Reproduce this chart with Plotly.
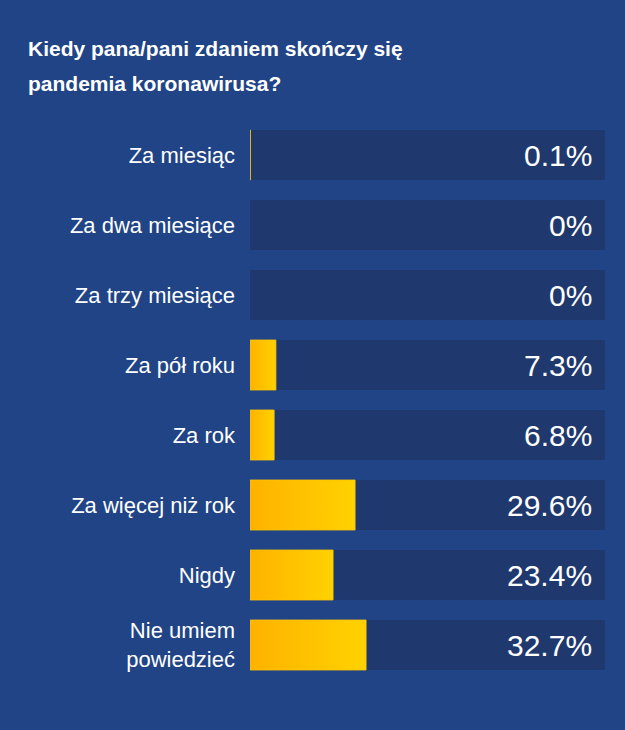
import plotly.graph_objects as go

categories = ["Za miesiąc", "Za dwa miesiące", "Za trzy miesiące", "Za pół roku",
              "Za rok", "Za więcej niż rok", "Nigdy", "Nie umiem<br>powiedzieć"]
values = [0.1, 0, 0, 7.3, 6.8, 29.6, 23.4, 32.7]
value_labels = ["0.1%", "0%", "0%", "7.3%", "6.8%", "29.6%", "23.4%", "32.7%"]
title_lines = ["Kiedy pana/pani zdaniem skończy się", "pandemia koronawirusa?"]

BG = "rgb(32,68,134)"
TRACK = "rgb(31,57,110)"
BAR_W = 50 / 70
FONT = "Liberation Sans, Arial, sans-serif"

idx = list(range(len(categories)))
fig = go.Figure()

# background tracks (100%)
fig.add_trace(go.Bar(x=[100] * len(idx), y=idx, orientation="h", width=BAR_W,
                     marker=dict(color=TRACK, line=dict(width=0)),
                     hoverinfo="skip", showlegend=False))

# gradient value bars
for i, v in zip(idx, values):
    if v <= 0:
        continue
    y0, y1 = i - BAR_W / 2, i + BAR_W / 2
    fig.add_trace(go.Scatter(
        x=[0, v, v, 0, 0], y=[y0, y0, y1, y1, y0], mode="lines",
        fill="toself",
        fillgradient=dict(type="horizontal",
                          colorscale=[[0, "#ffb200"], [1, "#ffd200"]]),
        line=dict(width=0.8, color="#ffc400"),
        hoverinfo="skip", showlegend=False))

annotations = []
for i, t in zip(idx, value_labels):
    annotations.append(dict(x=100, y=i, xref="x", yref="y", text=t,
                            xanchor="right", yanchor="middle", xshift=-11,
                            showarrow=False,
                            font=dict(family=FONT, size=30, color="white")))
for k, line in enumerate(title_lines):
    annotations.append(dict(x=26, y=730 - 48 - 35 * k, xref="paper", yref="paper",
                            text="<b>" + line + "</b>", showarrow=False,
                            xanchor="left", yanchor="middle",
                            font=dict(family=FONT, size=21, color="white")))

fig.update_layout(
    width=625, height=730,
    margin=dict(l=250, r=20, t=120, b=50),
    paper_bgcolor=BG, plot_bgcolor="rgba(0,0,0,0)",
    barmode="overlay",
    showlegend=False,
    annotations=annotations,
    xaxis=dict(range=[0, 100], visible=False, fixedrange=True),
    yaxis=dict(range=[len(idx) - 0.5, -0.5], tickvals=idx, ticktext=categories,
               showgrid=False, zeroline=False, showline=False, ticks="",
               ticklabelstandoff=14,
               tickfont=dict(family=FONT, size=22, color="white")),
)
# map title annotations to pixel-based paper coordinates
for a in fig.layout.annotations:
    if a.xref == "paper":
        a.x = (a.x - 250) / (625 - 250 - 20)
        a.y = (a.y - 50) / (730 - 120 - 50)

fig.write_html("out.html")
